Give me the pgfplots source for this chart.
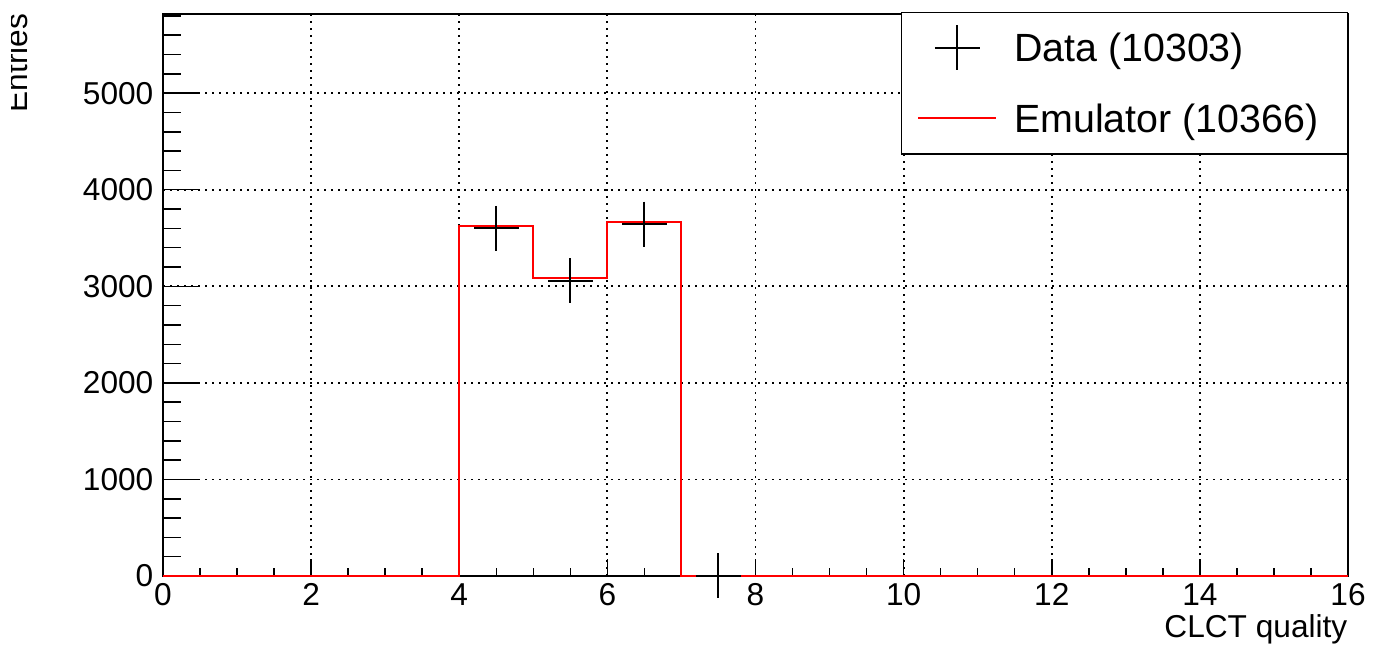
\documentclass[border=0pt]{standalone}
\usepackage{pgfplots}
\pgfplotsset{compat=1.18}
\usepackage{fontspec}
\setmainfont{Liberation Sans}
\begin{document}
\begin{tikzpicture}
\useasboundingbox (0,0) rectangle (13.77cm,6.49cm);
\pgfplotsset{
  base/.style={
    at={(1.63cm,0.73cm)}, anchor=south west,
    scale only axis, width=11.85cm, height=5.62cm,
    xmin=0, xmax=16, ymin=0, ymax=5820,
    /pgf/number format/assume math mode=true,
    /pgf/number format/1000 sep={},
    tick align=inside, tick pos=left,
    ticklabel style={font=\fontsize{9}{10}\selectfont},
    axis line style={line width=0.02cm},
    every tick/.style={black, line width=0.015cm},
  },
}
\begin{axis}[base, hide x axis,
  ytick={0,1000,...,5000}, yticklabels={},
  minor ytick={200,400,...,5800},
  major tick length=0.35cm, minor tick length=0.175cm,
]
\end{axis}
\begin{axis}[base,
  xtick={0,2,...,16}, minor x tick num=3,
  ytick={0,1000,...,5000}, minor y tick num=0,
  major tick length=0.17cm, minor tick length=0.085cm,
  xticklabel style={inner sep=0pt, yshift=-0.07cm},
  yticklabel style={inner sep=0pt, xshift=-0.09cm},
  grid=major,
  major grid style={black, line width=0.018cm, dash pattern=on 0.02cm off 0.05cm},
  xlabel={CLCT quality},
  xlabel style={at={(axis description cs:1,0)}, anchor=north east, inner sep=0pt, yshift=-0.38cm, font=\fontsize{9}{10}\selectfont},
  legend style={at={(1,1)}, anchor=north east, yshift=0.02cm, draw=black, line width=0.015cm, fill=white,
    inner sep=0pt, nodes={inner sep=0pt, text height=0.49cm, text depth=0.215cm}, column sep=0.17cm, row sep=0pt,
    font=\fontsize{11.2}{13}\selectfont},
  legend cell align=left,
]
\addlegendimage{legend image code/.code={\path[draw=none] (-0.17cm,0) -- (0.78cm,0); \draw[black, line width=0.02cm] plot[mark=+, mark size=0.225cm] coordinates {(0.39cm,0cm)};}}
\addlegendentry{\makebox[3.33cm][l]{Data (10303)}}
\addlegendimage{legend image code/.code={\path[draw=none] (-0.17cm,0) -- (0.78cm,0); \draw[red, line width=0.02cm] (0cm,0cm) -- (0.78cm,0cm);}}
\addlegendentry{\makebox[3.33cm][l]{Emulator (10366)}}
\end{axis}
\begin{axis}[base, hide axis, clip=false]
\addplot[const plot, red, line width=0.02cm] coordinates {
(0,0)(1,0)(2,0)(3,0)(4,3620)(5,3085)(6,3661)(7,0)(8,0)(9,0)(10,0)(11,0)(12,0)(13,0)(14,0)(15,0)(16,0)};
\addplot[only marks, mark=+, mark size=0.225cm, black, mark options={line width=0.02cm}] coordinates {
(4.5,3600)(5.5,3057)(6.5,3645)(7.5,1)};
\end{axis}
\begin{scope}
\clip (0.12cm,0) rectangle (1cm,6.49cm);
\node[rotate=90, anchor=base east, inner sep=0pt, font=\fontsize{9}{10}\selectfont] at (0.275cm,6.36cm) {Entries};
\end{scope}
\end{tikzpicture}
\end{document}
